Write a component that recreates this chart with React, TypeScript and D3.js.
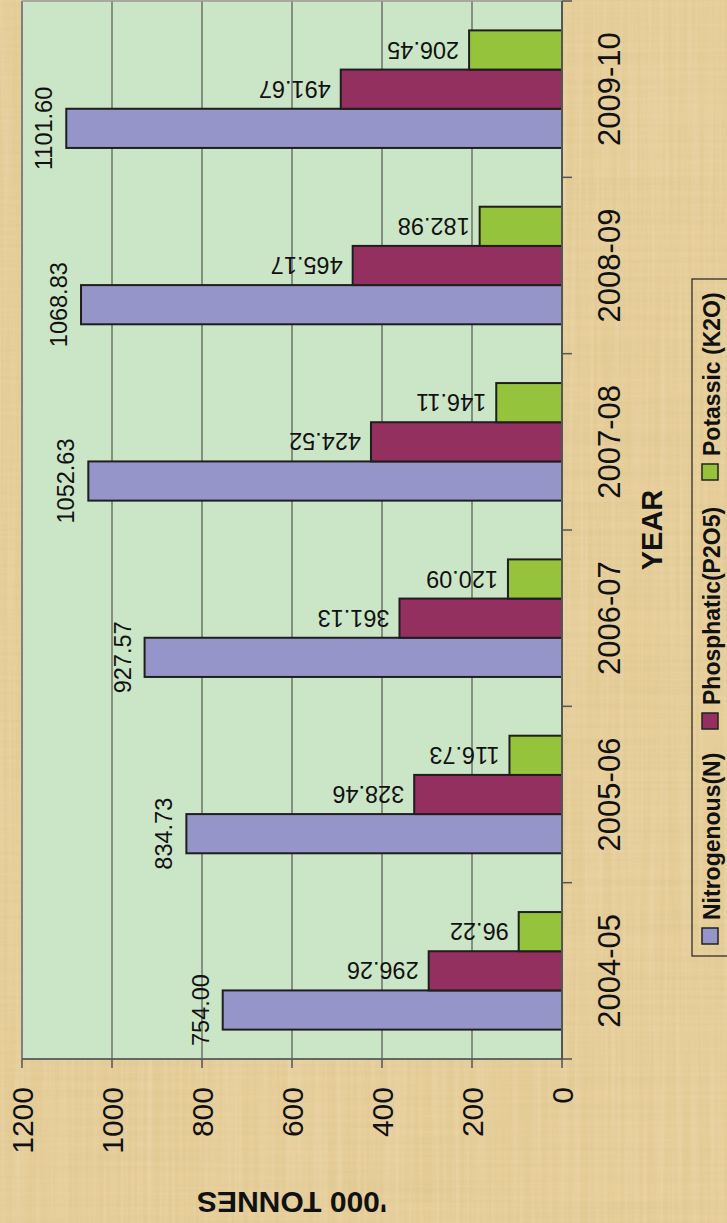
import React from 'react';
import * as d3 from 'd3';

const categories = ['2004-05', '2005-06', '2006-07', '2007-08', '2008-09', '2009-10'];
const seriesNames = ['Nitrogenous(N)', 'Phosphatic(P2O5)', 'Potassic (K2O)'];
const nitrogenous = [754.0, 834.73, 927.57, 1052.63, 1068.83, 1101.6];
const phosphatic = [296.26, 328.46, 361.13, 424.52, 465.17, 491.67];
const potassic = [96.22, 116.73, 120.09, 146.11, 182.98, 206.45];
const valueTicks = [0, 200, 400, 600, 800, 1000, 1200];
const seriesColors = ['#9595c9', '#93305f', '#95c43c'];

const W = 727;
const H = 1223;

export default function App() {
  // chart is drawn in the un-rotated frame (H wide, W tall) then rotated -90deg
  const plotL = 164;
  const plotR = 1222;
  const plotT = 22;
  const plotB = 562;

  const x0 = d3.scaleBand<string>().domain(categories).range([plotL, plotR]).padding(0);
  const bw = x0.bandwidth();
  const b = bw / 4.5;
  const x1 = d3.scaleBand<string>().domain(seriesNames).range([0.75 * b, 3.75 * b]).padding(0);
  const y = d3.scaleLinear().domain([0, 1200]).range([plotB, plotT]);

  const series = [nitrogenous, phosphatic, potassic];
  const fmt = d3.format('.2f');
  const font = "'Liberation Sans', Arial, Helvetica, sans-serif";

  const boundaries = categories.map((c) => x0(c) as number).concat([plotR]);

  const legendX = [279, 494, 743];

  return (
    <svg
      width={W}
      height={H}
      style={{ position: 'absolute', left: 0, top: 0, display: 'block' }}
      fontFamily={font}
    >
      <defs>
        <filter id="fib1" x="0" y="0" width="100%" height="100%">
          <feTurbulence type="fractalNoise" baseFrequency="0.004 0.25" numOctaves="2" seed="3" />
          <feColorMatrix type="matrix" values="0 0 0 0 0.55  0 0 0 0 0.45  0 0 0 0 0.2  0 0 0 0.9 -0.3" />
        </filter>
        <filter id="fib2" x="0" y="0" width="100%" height="100%">
          <feTurbulence type="fractalNoise" baseFrequency="0.25 0.004" numOctaves="2" seed="7" />
          <feColorMatrix type="matrix" values="0 0 0 0 1  0 0 0 0 0.95  0 0 0 0 0.8  0 0 0 0.9 -0.3" />
        </filter>
      </defs>
      <rect x={0} y={0} width={W} height={H} fill="#e6cd98" />
      <rect x={0} y={0} width={W} height={H} filter="url(#fib1)" opacity={0.35} />
      <rect x={0} y={0} width={W} height={H} filter="url(#fib2)" opacity={0.35} />

      <g transform={`translate(0,${H}) rotate(-90)`}>
        {/* plot area */}
        <rect x={plotL} y={plotT} width={plotR - plotL} height={plotB - plotT} fill="#cbe6c6" />
        {/* gridlines */}
        {valueTicks.slice(1, -1).map((t) => (
          <line key={'g' + t} x1={plotL} x2={plotR} y1={y(t)} y2={y(t)} stroke="#555" strokeWidth={1.2} />
        ))}
        {/* plot border */}
        <line x1={plotL} x2={plotR} y1={plotT} y2={plotT} stroke="#808080" strokeWidth={2} />
        <line x1={plotR} x2={plotR} y1={plotT} y2={plotB} stroke="#999" strokeWidth={1.5} />
        <line x1={plotL} x2={plotL} y1={plotT} y2={plotB + 0} stroke="#666" strokeWidth={2} />
        {/* value ticks + labels */}
        {valueTicks.map((t) => (
          <g key={'t' + t}>
            <line x1={plotL - 9} x2={plotL} y1={y(t)} y2={y(t)} stroke="#555" strokeWidth={1.5} />
            <text x={136} y={y(t)} dy="0.36em" textAnchor="end" fontSize={30} fill="#111">
              {t}
            </text>
          </g>
        ))}
        {/* bars */}
        {categories.map((c, i) => (
          <g key={c}>
            {series.map((s, j) => {
              const bx = (x0(c) as number) + (x1(seriesNames[j]) as number);
              const v = s[i];
              return (
                <rect
                  key={j}
                  x={bx}
                  y={y(v)}
                  width={x1.bandwidth()}
                  height={y(0) - y(v)}
                  fill={seriesColors[j]}
                  stroke="#1e1e1e"
                  strokeWidth={2}
                />
              );
            })}
          </g>
        ))}
        {/* category axis */}
        <line x1={plotL} x2={plotR} y1={plotB} y2={plotB} stroke="#555" strokeWidth={2} />
        {boundaries.map((u, k) => (
          <line key={'ct' + k} x1={u} x2={u} y1={plotB} y2={plotB + 10} stroke="#555" strokeWidth={1.5} />
        ))}
        {categories.map((c) => (
          <text
            key={'cl' + c}
            x={(x0(c) as number) + bw / 2}
            y={620}
            textAnchor="middle"
            fontSize={31}
            fill="#111"
          >
            {c}
          </text>
        ))}
        {/* data labels */}
        {categories.map((c, i) => {
          const cxN = (x0(c) as number) + (x1(seriesNames[0]) as number) + x1.bandwidth() / 2;
          return (
            <g key={'dl' + c}>
              <text x={cxN} y={y(nitrogenous[i]) - 14} textAnchor="middle" fontSize={23.5} fill="#111">
                {fmt(nitrogenous[i])}
              </text>
              {[phosphatic, potassic].map((s, jj) => {
                const j = jj + 1;
                const cx = (x0(c) as number) + (x1(seriesNames[j]) as number) + x1.bandwidth() / 2;
                return (
                  <text
                    key={j}
                    transform={`translate(${cx},${y(s[i]) - 10}) rotate(-90)`}
                    dy="0.36em"
                    textAnchor="start"
                    fontSize={23.5}
                    fill="#111"
                  >
                    {fmt(s[i])}
                  </text>
                );
              })}
            </g>
          );
        })}
        {/* axis titles */}
        <text
          x={(plotL + plotR) / 2}
          y={662}
          textAnchor="middle"
          fontSize={29}
          fontWeight="bold"
          fill="#111"
        >
          YEAR
        </text>
        <text
          transform={`translate(31,${(plotT + plotB) / 2}) rotate(-90)`}
          textAnchor="middle"
          fontSize={30}
          fontWeight="bold"
          fill="#111"
        >
          '000 TONNES
        </text>
        {/* legend */}
        <rect x={267} y={692} width={944 - 267} height={60} fill="none" stroke="#222" strokeWidth={1.2} />
        {seriesNames.map((n, j) => (
          <g key={'lg' + n}>
            <rect x={legendX[j]} y={702} width={16} height={16} fill={seriesColors[j]} stroke="#222" strokeWidth={1.5} />
            <text x={legendX[j] + 24} y={720} fontSize={23} fontWeight="bold" fill="#111">
              {n}
            </text>
          </g>
        ))}
      </g>
    </svg>
  );
}
